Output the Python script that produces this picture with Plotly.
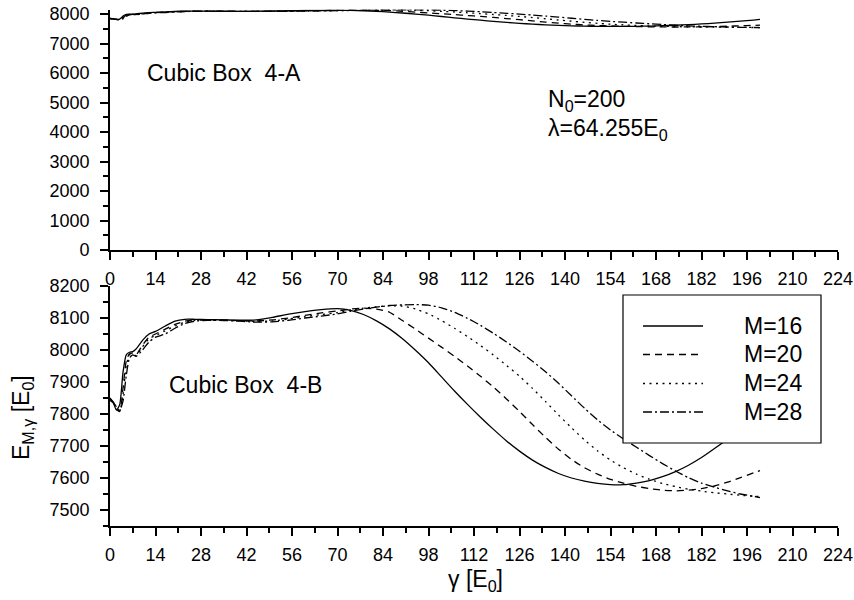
import plotly.graph_objects as go

# ---------------- data ----------------
gamma = [0, 1, 2, 3, 4, 5, 6, 7, 8, 10, 12, 14, 17, 20, 23, 26, 30, 35, 40, 45, 50, 55,
         60, 65, 70, 74, 78, 82, 86, 90, 94, 98, 102, 106, 110, 114, 118, 122, 126, 130,
         134, 138, 142, 146, 150, 154, 158, 162, 166, 170, 174, 178, 182, 186, 190, 194,
         198, 200]

m16 = [7850, 7835, 7812, 7830, 7930, 7985, 7993, 7995, 8003, 8030, 8050, 8058, 8075, 8090,
       8096, 8096, 8095, 8094, 8093, 8094, 8102, 8112, 8120, 8126, 8129, 8124, 8111, 8091,
       8066, 8035, 7999, 7960, 7916, 7872, 7830, 7790, 7752, 7716, 7684, 7656, 7633, 7614,
       7600, 7590, 7583, 7579, 7579, 7584, 7592, 7604, 7620, 7640, 7664, 7692, 7722, 7757,
       7796, 7816]

m20 = [7848, 7838, 7815, 7808, 7880, 7965, 7988, 7990, 7985, 8015, 8040, 8050, 8065, 8080,
       8090, 8094, 8095, 8094, 8092, 8091, 8094, 8100, 8108, 8116, 8122, 8128, 8131, 8128,
       8118, 8092, 8065, 8037, 8009, 7980, 7950, 7918, 7884, 7847, 7808, 7767, 7727, 7690,
       7658, 7632, 7612, 7596, 7584, 7574, 7567, 7562, 7560, 7562, 7567, 7575, 7587, 7601,
       7616, 7623]

m24 = [7845, 7838, 7818, 7810, 7860, 7950, 7985, 7988, 7982, 8010, 8035, 8045, 8060, 8075,
       8087, 8093, 8094, 8093, 8091, 8089, 8091, 8097, 8104, 8111, 8117, 8125, 8131, 8135,
       8138, 8137, 8128, 8113, 8092, 8068, 8042, 8014, 7984, 7952, 7918, 7880, 7839, 7797,
       7757, 7719, 7685, 7656, 7632, 7612, 7596, 7583, 7573, 7565, 7559, 7554, 7550, 7546,
       7543, 7542]

m28 = [7842, 7835, 7822, 7812, 7840, 7920, 7975, 7985, 7980, 8000, 8025, 8040, 8050, 8068,
       8083, 8090, 8093, 8092, 8090, 8087, 8088, 8093, 8100, 8106, 8113, 8121, 8128, 8134,
       8139, 8141, 8142, 8140, 8132, 8118, 8099, 8077, 8052, 8025, 7996, 7965, 7932, 7896,
       7857, 7818, 7782, 7750, 7722, 7696, 7670, 7645, 7622, 7601, 7584, 7571, 7560, 7550,
       7543, 7539]

series_names = ["M=16", "M=20", "M=24", "M=28"]
series_values = [m16, m20, m24, m28]
dash_styles = ["solid", "7px,5px", "2px,4.5px", "9px,3px,2px,3px"]

x_ticks = list(range(0, 225, 14))
top_y_ticks = list(range(0, 8001, 1000))
bot_y_ticks = list(range(7500, 8201, 100))

# ---------------- layout helpers ----------------
W, H = 854, 600
L, R, T, B = 110, 16, 8, 74
PW, PH = W - L - R, H - T - B


def px(xp):
    return (xp - L) / PW


def py(yp):
    return (H - B - yp) / PH


FONT = "Liberation Sans, Arial, Helvetica, sans-serif"

fig = go.Figure()
for name, vals, dash in zip(series_names, series_values, dash_styles):
    for xa, ya in (("x", "y"), ("x2", "y2")):
        fig.add_trace(go.Scatter(
            x=gamma, y=vals, mode="lines", name=name, xaxis=xa, yaxis=ya,
            line=dict(color="black", width=1.3, dash=dash, shape="spline", smoothing=0.6),
            showlegend=False, hoverinfo="skip"))

axis_common = dict(
    showline=True, linecolor="black", linewidth=1.6, showgrid=False, zeroline=False,
    ticks="outside", ticklen=8, tickwidth=1.6, tickcolor="black", automargin=False,
    tickfont=dict(family=FONT, size=18, color="black"), mirror=False,
)
xa = dict(axis_common, range=[0, 224], tickvals=x_ticks, ticklabelstandoff=4,
          minor=dict(dtick=7, tick0=0, ticks="outside", ticklen=5, tickwidth=1.6,
                     tickcolor="black", showgrid=False))

fig.update_layout(
    width=W, height=H, margin=dict(l=L, r=R, t=T, b=B, autoexpand=False),
    paper_bgcolor="white", plot_bgcolor="white", showlegend=False,
    font=dict(family=FONT, color="black"),
    xaxis=dict(xa, anchor="y", domain=[0, 1]),
    xaxis2=dict(xa, anchor="y2", domain=[0, 1]),
    yaxis=dict(axis_common, anchor="x", domain=[py(250), py(9.6)], range=[0, 8150],
               tickvals=top_y_ticks, ticklabelstandoff=7,
               minor=dict(dtick=500, tick0=0, ticks="outside", ticklen=5, tickwidth=1.6,
                          tickcolor="black", showgrid=False)),
    yaxis2=dict(axis_common, anchor="x2", domain=[0, py(286)], range=[7450, 8200],
                tickvals=bot_y_ticks, ticklabelstandoff=7,
                minor=dict(dtick=50, tick0=7450, ticks="outside", ticklen=5, tickwidth=1.6,
                           tickcolor="black", showgrid=False)),
)

ann_font = dict(family=FONT, size=23, color="black")
annotations = [
    dict(text="Cubic Box\u00a0\u00a04-A", x=px(145), y=py(73), xanchor="left", yanchor="middle"),
    dict(text="Cubic Box\u00a0\u00a04-B", x=px(167), y=py(385), xanchor="left", yanchor="middle"),
    dict(text="N<sub>0</sub>=200", x=px(546), y=py(101), xanchor="left", yanchor="middle"),
    dict(text="λ=64.255E<sub>0</sub>", x=px(546), y=py(129), xanchor="left", yanchor="middle"),
    dict(text="γ [E<sub>0</sub>]", x=px(475), y=py(580), xanchor="center", yanchor="middle"),
    dict(text="E<sub>M,γ</sub> [E<sub>0</sub>]", x=px(22), y=py(418), xanchor="center",
         yanchor="middle", textangle=-90),
]
for a in annotations:
    a.update(xref="paper", yref="paper", showarrow=False, font=ann_font)

# legend (manual box, samples drawn with the series styles)
shapes = [dict(type="rect", xref="paper", yref="paper", x0=px(623), x1=px(821),
               y0=py(443), y1=py(295), line=dict(color="black", width=1.2),
               fillcolor="white", layer="above")]
row_y = [326, 354.5, 383.5, 412]
for name, dash, ry in zip(series_names, dash_styles, row_y):
    shapes.append(dict(type="line", xref="paper", yref="paper", x0=px(643), x1=px(703),
                       y0=py(ry), y1=py(ry), line=dict(color="black", width=1.3, dash=dash),
                       layer="above"))
    annotations.append(dict(text=name, x=px(742), y=py(ry), xref="paper", yref="paper",
                            xanchor="left", yanchor="middle", showarrow=False, font=ann_font))

fig.update_layout(annotations=annotations, shapes=shapes)
fig.write_html("out.html")
